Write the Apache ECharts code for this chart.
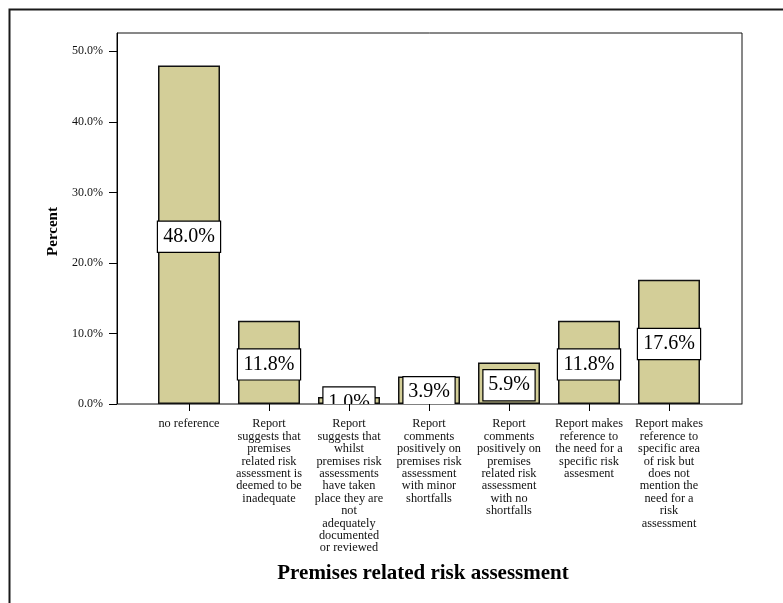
<!DOCTYPE html>
<html>
<head>
<meta charset="utf-8">
<title>Premises related risk assessment</title>
<script src="https://cdn.jsdelivr.net/npm/echarts@6/dist/echarts.min.js"></script>
<style>
  html, body { margin: 0; padding: 0; background: #fff; }
  #chart { width: 783px; height: 603px; }
</style>
</head>
<body>
<div id="chart"></div>
<script>
// Response categories (wrapped as printed under each bar)
const categories = [
  'no reference',
  'Report\nsuggests that\npremises\nrelated risk\nassessment is\ndeemed to be\ninadequate',
  'Report\nsuggests that\nwhilst\npremises risk\nassessments\nhave taken\nplace they are\nnot\nadequately\ndocumented\nor reviewed',
  'Report\ncomments\npositively on\npremises risk\nassessment\nwith minor\nshortfalls',
  'Report\ncomments\npositively on\npremises\nrelated risk\nassessment\nwith no\nshortfalls',
  'Report makes\nreference to\nthe need for a\nspecific risk\nassesment',
  'Report makes\nreference to\nspecific area\nof risk but\ndoes not\nmention the\nneed for a\nrisk\nassessment'
];

// Percent of reports in each category
const percents = [48.0, 11.8, 1.0, 3.9, 5.9, 11.8, 17.6];

// Value-axis tick marks
const yTicks = [0, 10, 20, 30, 40, 50];
const yMax = 52.6;

const SERIF = '"Liberation Serif", "Times New Roman", serif';
const BAR_FILL = '#d3ce98';

const chart = echarts.init(document.getElementById('chart'), null, { renderer: 'canvas' });

const option = {
  backgroundColor: '#fff',
  animation: false,
  graphic: [{
    type: 'rect',
    left: 7, top: 7,
    shape: { width: 900, height: 700 },
    style: { fill: 'none', stroke: '#1a1a1a', lineWidth: 2 },
    silent: true
  }],
  grid: [
    // bars: seven 80px bands centred inside the frame
    { left: 149, right: 74, top: 33, bottom: 199 },
    // outer plot frame carrying the percent scale
    { left: 117, right: 41, top: 33, bottom: 199, show: true,
      borderColor: '#111', borderWidth: 1, backgroundColor: 'transparent' }
  ],
  xAxis: [
    {
      gridIndex: 0,
      type: 'category',
      data: categories,
      boundaryGap: true,
      axisLine: { show: false },
      axisTick: { show: true, alignWithLabel: true, length: 7,
                  lineStyle: { color: '#000', width: 1 } },
      axisLabel: {
        interval: 0, margin: 14,
        fontFamily: SERIF, fontSize: 12.3, lineHeight: 12.4,
        color: '#111', align: 'center'
      },
      name: 'Premises related risk assessment',
      nameLocation: 'middle',
      nameGap: 159,
      nameTextStyle: { fontFamily: SERIF, fontSize: 21, fontWeight: 'bold', color: '#000',
                       padding: [0, 12, 0, 0] }
    },
    {
      // lighter top edge of the frame
      gridIndex: 1, type: 'value', min: 0, max: 1, position: 'top',
      axisLine: { show: true, lineStyle: { color: '#808080', width: 1 } },
      axisTick: { show: false }, axisLabel: { show: false }, splitLine: { show: false }
    }
  ],
  yAxis: [
    { gridIndex: 0, type: 'value', min: 0, max: yMax, show: false },
    {
      gridIndex: 1,
      type: 'value',
      min: 0, max: yMax,
      splitLine: { show: false },
      axisLine: { show: true, lineStyle: { color: '#000', width: 1 } },
      axisTick: { show: true, length: 8, customValues: yTicks,
                  lineStyle: { color: '#000', width: 1 } },
      axisLabel: {
        customValues: yTicks, margin: 14,
        fontFamily: SERIF, fontSize: 12, color: '#111',
        formatter: v => v.toFixed(1) + '%'
      },
      name: 'Percent',
      nameLocation: 'middle',
      nameGap: 50,
      nameRotate: 90,
      nameTextStyle: { fontFamily: SERIF, fontSize: 15, fontWeight: 'bold', color: '#000',
                       padding: [0, 26, 0, 0] }
    }
  ],
  series: [
    {
      type: 'bar',
      xAxisIndex: 0, yAxisIndex: 0,
      data: percents,
      barWidth: 62,
      itemStyle: { color: BAR_FILL, borderColor: '#111', borderWidth: 1.5 },
      z: 2
    },
    {
      // boxed value labels centred on each bar, clipped to the plot area
      type: 'custom',
      xAxisIndex: 0, yAxisIndex: 0,
      clip: true,
      data: percents.map((v, i) => [i, v]),
      z: 3,
      renderItem: function (params, api) {
        const v = api.value(1);
        const c = api.coord([api.value(0), v / 2]);
        const txt = v.toFixed(1) + '%';
        const w = txt.length >= 5 ? 54 : 43;
        return {
          type: 'text',
          x: c[0],
          y: c[1] + 2,
          style: {
            text: txt,
            fontFamily: SERIF,
            fontSize: 20,
            fill: '#000',
            align: 'center',
            verticalAlign: 'middle',
            width: w,
            lineHeight: 20,
            backgroundColor: '#fff',
            borderColor: '#000',
            borderWidth: 1.2,
            padding: [5, 4, 5, 4]
          }
        };
      }
    }
  ]
};

chart.setOption(option);
</script>
</body>
</html>
